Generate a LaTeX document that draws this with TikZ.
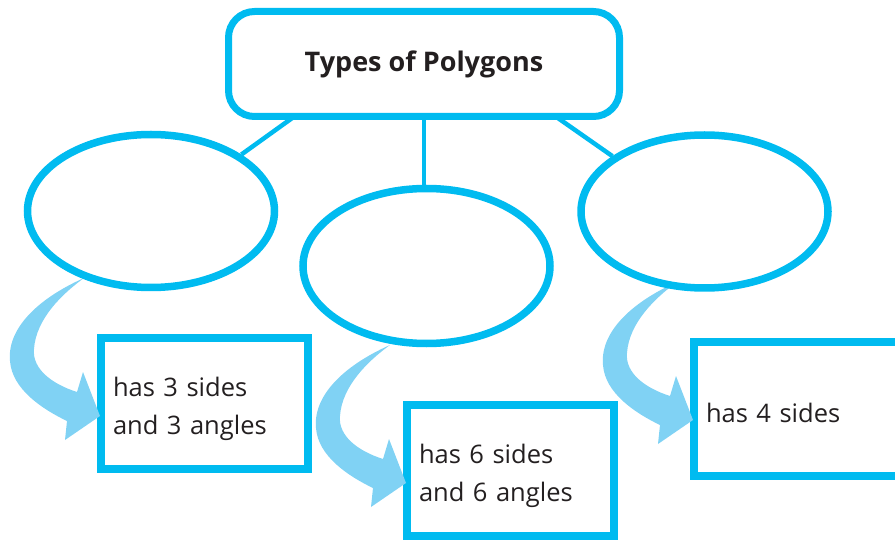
\documentclass[tikz,border=0pt]{standalone}
\usepackage{fontspec}
\setmainfont{Open Sans}
\usetikzlibrary{shapes.geometric,calc}
\definecolor{cyanline}{RGB}{0,187,240}
\definecolor{arrowblue}{RGB}{128,210,244}
\definecolor{textdark}{RGB}{35,31,32}
\begin{document}
\begin{tikzpicture}[x=1pt,y=-1pt,
  titlebox/.style={draw=cyanline, line width=7pt, rounded corners=26pt, fill=white,
    minimum width=391pt, minimum height=105pt, inner sep=0pt,
    font=\bfseries\fontsize{27}{34}\selectfont, text=textdark},
  oval/.style={ellipse, draw=cyanline, line width=7.5pt, fill=white,
    minimum width=247pt, minimum height=153pt, inner sep=0pt},
  infobox/.style={draw=cyanline, line width=8pt, minimum width=207pt, minimum height=131pt,
    inner sep=0pt},
  infotext/.style={text width=183pt, align=left, inner sep=0pt,
    font=\fontsize{25.5}{38}\selectfont, text=textdark},
  conn/.style={draw=cyanline, line width=4.5pt},
  bendarrow/.style={fill=arrowblue, draw=none}
]
\useasboundingbox (0,0) rectangle (895,540);
\clip (0,0) rectangle (895,540);

% boxes
\node[infobox] (b1) at (204.5,403.5) {};
\node[infobox] (b2) at (510.5,470.5) {};
\node[infobox, minimum height=134pt] (b3) at (797.5,409) {};
\node[infotext] (t1) at ([yshift=-5pt]b1.center) {has 3 sides\\and 3 angles};
\node[infotext] (t2) at ([yshift=-5pt]b2.center) {has 6 sides\\and 6 angles};
\node[infotext] (t3) at ([yshift=-4pt]b3.center) {has 4 sides};

% curved arrows
\foreach \b in {b1,b2,b3}{
  \fill[bendarrow, shift={(\b.north west)}]
    (-13,-56) .. controls (-60,-35) and (-90,-5) .. (-87,27)
    .. controls (-85,55) and (-55,75) .. (-30,87)
    -- (-32,106) -- (3,82) -- (-14,38) -- (-20,58)
    .. controls (-45,50) and (-65,35) .. (-63,15)
    .. controls (-61,-15) and (-35,-40) .. (-13,-56) -- cycle;
}

% ovals
\node[oval] (e1) at (151,211) {};
\node[oval, minimum height=155pt] (e2) at (426.5,266) {};
\node[oval] (e3) at (704.5,211.5) {};

% title
\node[titlebox] (title) at (424,64) {Types of Polygons};

% connectors
\draw[conn] ($(title.south west)+(70,-4)$) -- (e1.32);
\draw[conn] (title.south) -- (title.south |- e2.north);
\draw[conn] ($(title.south east)+(-68,-4)$) -- (e3.149);
\end{tikzpicture}
\end{document}
